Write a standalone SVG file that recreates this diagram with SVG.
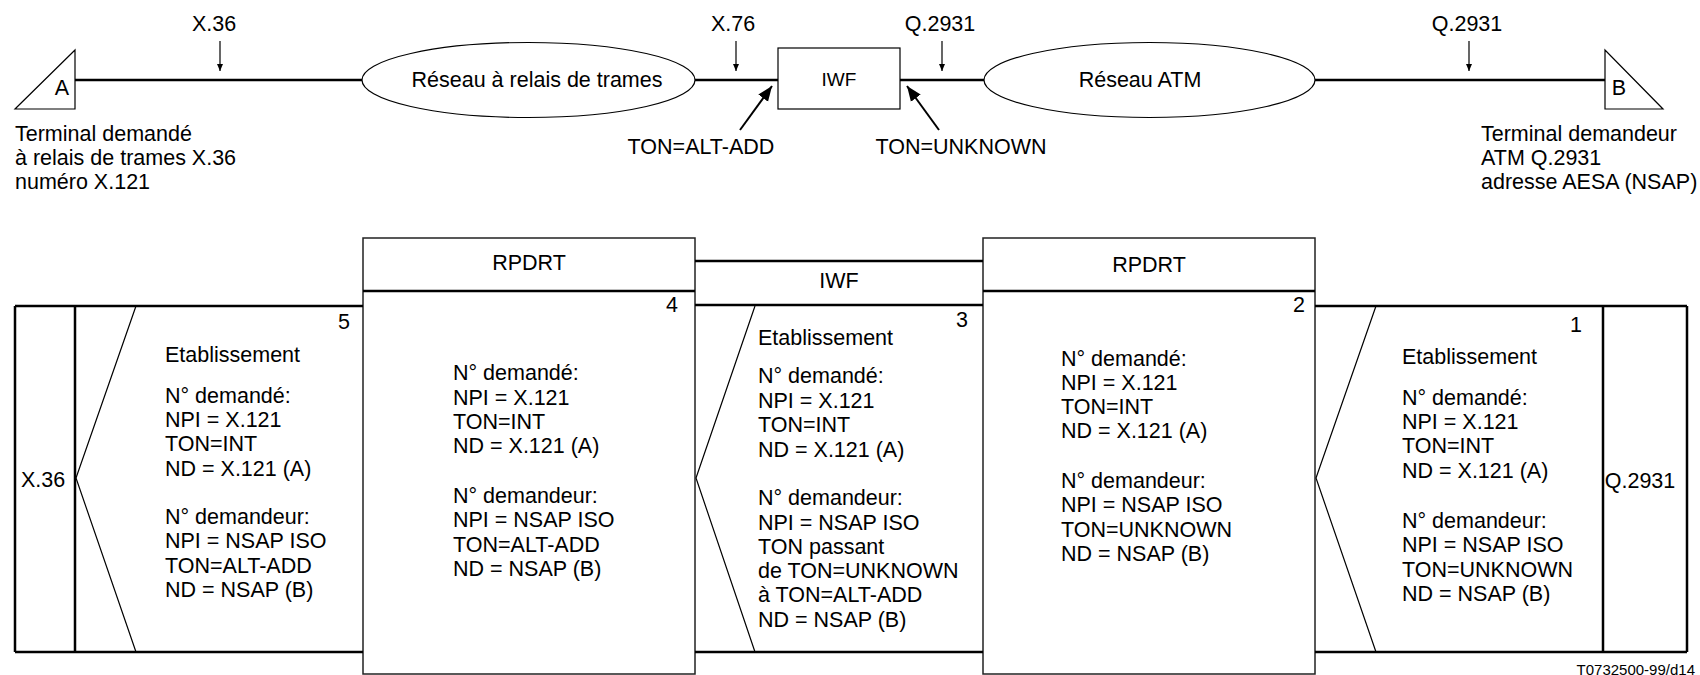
<svg xmlns="http://www.w3.org/2000/svg" width="1700" height="675" viewBox="0 0 1700 675">
  <style>
    text { font-family: "Liberation Sans", Arial, sans-serif; font-size: 21.5px; fill: #000; }
    .mid { text-anchor: middle; }
    .end { text-anchor: end; }
    .small { font-size: 19px; }
    .ref { font-size: 15px; }
    .thick { stroke: #000; stroke-width: 2.5; fill: none; }
    .thin { stroke: #000; stroke-width: 1.2; fill: none; }
    .box { stroke: #222; stroke-width: 1.5; fill: #fff; }
    .pointer { stroke: #000; stroke-width: 1.2; fill: none; }
    .bold-pointer { stroke: #000; stroke-width: 2; fill: none; }
  </style>
  <defs>
    <marker id="tip-small" markerWidth="8" markerHeight="8" refX="7" refY="4" orient="auto" markerUnits="userSpaceOnUse">
      <path d="M0,1 L7,4 L0,7 Z" fill="#000"/>
    </marker>
    <marker id="tip-large" markerWidth="16" markerHeight="14" refX="15" refY="7" orient="auto" markerUnits="userSpaceOnUse">
      <path d="M0,1 L15,7 L0,13 Z" fill="#000"/>
    </marker>
  </defs>

  <rect width="1700" height="675" fill="#fff"/>

  <!-- ===== Upper part: network configuration ===== -->
  <g id="connectors">
    <line class="thick" x1="75" y1="80" x2="362" y2="80"/>
    <line class="thick" x1="695" y1="80" x2="778" y2="80"/>
    <line class="thick" x1="900" y1="80" x2="984" y2="80"/>
    <line class="thick" x1="1315" y1="80" x2="1605" y2="80"/>
    <!-- interface pointers -->
    <line class="pointer" x1="220" y1="41" x2="220" y2="71" marker-end="url(#tip-small)"/>
    <line class="pointer" x1="736" y1="41" x2="736" y2="71" marker-end="url(#tip-small)"/>
    <line class="pointer" x1="942" y1="41" x2="942" y2="71" marker-end="url(#tip-small)"/>
    <line class="pointer" x1="1469" y1="41" x2="1469" y2="71" marker-end="url(#tip-small)"/>
    <!-- TON annotations -->
    <line class="bold-pointer" x1="740" y1="130" x2="772" y2="86" marker-end="url(#tip-large)"/>
    <line class="bold-pointer" x1="939" y1="130" x2="907" y2="86" marker-end="url(#tip-large)"/>
  </g>

  <g id="label-x36">
    <text class="mid" x="214" y="31">X.36</text>
  </g>
  <g id="label-x76">
    <text class="mid" x="733" y="31">X.76</text>
  </g>
  <g id="label-q2931-iwf">
    <text class="mid" x="940" y="31">Q.2931</text>
  </g>
  <g id="label-q2931-b">
    <text class="mid" x="1467" y="31">Q.2931</text>
  </g>

  <g id="terminal-a">
    <path class="thin" d="M15,109 L75,50 L75,109 Z"/>
    <text class="mid" x="62" y="95">A</text>
    <text x="15" y="141">Terminal demandé</text>
    <text x="15" y="165">à relais de trames X.36</text>
    <text x="15" y="189">numéro X.121</text>
  </g>

  <g id="frame-relay-network">
    <ellipse class="thin" cx="528.5" cy="80" rx="166.5" ry="37.5"/>
    <text class="mid" x="537" y="87">Réseau à relais de trames</text>
  </g>

  <g id="iwf">
    <rect class="thin" x="778" y="48" width="122" height="61"/>
    <text class="mid small" x="839" y="86">IWF</text>
  </g>

  <g id="atm-network">
    <ellipse class="thin" cx="1149.5" cy="80" rx="165.5" ry="37.5"/>
    <text class="mid" x="1140" y="87">Réseau ATM</text>
  </g>

  <g id="terminal-b">
    <path class="thin" d="M1605,50 L1605,109 L1663,109 Z"/>
    <text class="mid" x="1619" y="95">B</text>
    <text x="1481" y="141">Terminal demandeur</text>
    <text x="1481" y="165">ATM Q.2931</text>
    <text x="1481" y="189">adresse AESA (NSAP)</text>
  </g>

  <g id="ton-alt-add">
    <text class="mid" x="701" y="154">TON=ALT-ADD</text>
  </g>
  <g id="ton-unknown">
    <text class="mid" x="961" y="154">TON=UNKNOWN</text>
  </g>

  <!-- ===== Lower part: SETUP message flow ===== -->
  <g id="rpdrt-left">
    <rect class="box" x="363" y="238" width="332" height="436"/>
    <line class="thick" x1="363" y1="291" x2="695" y2="291"/>
    <text class="mid" x="529" y="270">RPDRT</text>
    <text class="end" x="678" y="312">4</text>
    <text x="453" y="380">N° demandé:</text>
    <text x="453" y="405">NPI = X.121</text>
    <text x="453" y="429">TON=INT</text>
    <text x="453" y="453">ND = X.121 (A)</text>
    <text x="453" y="503">N° demandeur:</text>
    <text x="453" y="527">NPI = NSAP ISO</text>
    <text x="453" y="552">TON=ALT-ADD</text>
    <text x="453" y="576">ND = NSAP (B)</text>
  </g>

  <g id="rpdrt-right">
    <rect class="box" x="983" y="238" width="332" height="436"/>
    <line class="thick" x1="983" y1="291" x2="1315" y2="291"/>
    <text class="mid" x="1149" y="272">RPDRT</text>
    <text class="end" x="1305" y="312">2</text>
    <text x="1061" y="366">N° demandé:</text>
    <text x="1061" y="390">NPI = X.121</text>
    <text x="1061" y="414">TON=INT</text>
    <text x="1061" y="438">ND = X.121 (A)</text>
    <text x="1061" y="488">N° demandeur:</text>
    <text x="1061" y="512">NPI = NSAP ISO</text>
    <text x="1061" y="537">TON=UNKNOWN</text>
    <text x="1061" y="561">ND = NSAP (B)</text>
  </g>

  <g id="x36-side">
    <line class="thick" x1="15" y1="306" x2="363" y2="306"/>
    <line class="thick" x1="15" y1="652" x2="363" y2="652"/>
    <line class="thick" x1="15" y1="306" x2="15" y2="652"/>
    <line class="thick" x1="75" y1="306" x2="75" y2="652"/>
    <text class="mid" x="43" y="487">X.36</text>
  </g>

  <g id="setup-5">
    <path class="thin" d="M136,306 L76,478 L136,652"/>
    <text class="end" x="350" y="329">5</text>
    <text x="165" y="362">Etablissement</text>
    <text x="165" y="403">N° demandé:</text>
    <text x="165" y="427">NPI = X.121</text>
    <text x="165" y="451">TON=INT</text>
    <text x="165" y="476">ND = X.121 (A)</text>
    <text x="165" y="524">N° demandeur:</text>
    <text x="165" y="548">NPI = NSAP ISO</text>
    <text x="165" y="573">TON=ALT-ADD</text>
    <text x="165" y="597">ND = NSAP (B)</text>
  </g>

  <g id="iwf-section">
    <line class="thick" x1="695" y1="261" x2="983" y2="261"/>
    <line class="thick" x1="695" y1="305" x2="983" y2="305"/>
    <line class="thick" x1="695" y1="652" x2="983" y2="652"/>
    <text class="mid" x="839" y="288">IWF</text>
  </g>

  <g id="setup-3">
    <path class="thin" d="M755,306 L696,478 L755,652"/>
    <text class="end" x="968" y="327">3</text>
    <text x="758" y="345">Etablissement</text>
    <text x="758" y="383">N° demandé:</text>
    <text x="758" y="408">NPI = X.121</text>
    <text x="758" y="432">TON=INT</text>
    <text x="758" y="457">ND = X.121 (A)</text>
    <text x="758" y="505">N° demandeur:</text>
    <text x="758" y="530">NPI = NSAP ISO</text>
    <text x="758" y="554">TON passant</text>
    <text x="758" y="578">de TON=UNKNOWN</text>
    <text x="758" y="602">à TON=ALT-ADD</text>
    <text x="758" y="627">ND = NSAP (B)</text>
  </g>

  <g id="q2931-side">
    <line class="thick" x1="1315" y1="306" x2="1687" y2="306"/>
    <line class="thick" x1="1315" y1="652" x2="1687" y2="652"/>
    <line class="thick" x1="1603" y1="306" x2="1603" y2="652"/>
    <line class="thick" x1="1687" y1="306" x2="1687" y2="652"/>
    <text class="mid" x="1640" y="488">Q.2931</text>
  </g>

  <g id="setup-1">
    <path class="thin" d="M1376,306 L1316,478 L1376,652"/>
    <text class="end" x="1582" y="332">1</text>
    <text x="1402" y="364">Etablissement</text>
    <text x="1402" y="405">N° demandé:</text>
    <text x="1402" y="429">NPI = X.121</text>
    <text x="1402" y="453">TON=INT</text>
    <text x="1402" y="478">ND = X.121 (A)</text>
    <text x="1402" y="528">N° demandeur:</text>
    <text x="1402" y="552">NPI = NSAP ISO</text>
    <text x="1402" y="577">TON=UNKNOWN</text>
    <text x="1402" y="601">ND = NSAP (B)</text>
  </g>

  <text class="end ref" x="1695" y="675">T0732500-99/d14</text>
</svg>
